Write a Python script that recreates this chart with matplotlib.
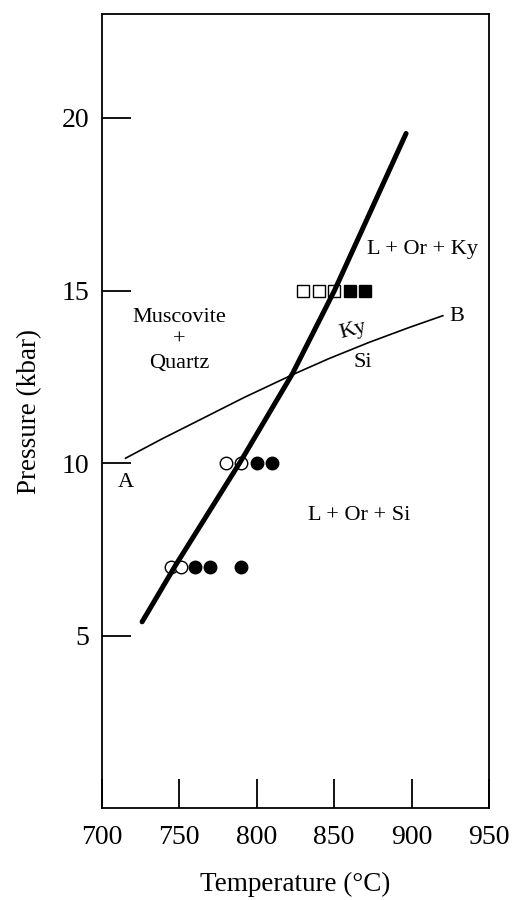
import matplotlib
matplotlib.use("Agg")
import matplotlib.pyplot as plt

plt.rcParams['font.family'] = ['Liberation Serif', 'DejaVu Serif']

# melting curve (thick line)
melt_T = [726.2, 747.8, 789.9, 823.2, 850.2, 896.5]
melt_P = [5.40, 7.04, 10.06, 12.59, 14.99, 19.55]

# Ky / Si boundary (thin line A-B)
kysi_T = [715.5, 739, 762.9, 792, 823.2, 846.9, 872.8, 898.6, 920.2]
kysi_P = [10.14, 10.70, 11.24, 11.90, 12.56, 13.03, 13.50, 13.93, 14.27]

# experiments
sq_open_T = [830, 840, 850]
sq_open_P = [15, 15, 15]
sq_fill_T = [860, 870]
sq_fill_P = [15, 15]
ci_open_T = [780, 790, 745, 751]
ci_open_P = [10, 10, 7, 7]
ci_fill_T = [800, 810, 760, 770, 790]
ci_fill_P = [10, 10, 7, 7, 7]

fig = plt.figure(figsize=(5.13, 9.0), dpi=100)
ax = fig.add_axes([101.5 / 513, 0.102, 387.5 / 513, 0.882])

ax.plot(kysi_T, kysi_P, color="black", lw=1.2, zorder=2)
ax.plot(ci_open_T, ci_open_P, "o", mfc="white", mec="black", ms=9, mew=1.0, zorder=3)
ax.plot(sq_open_T, sq_open_P, "s", mfc="white", mec="black", ms=8.5, mew=1.0, zorder=3)
ax.plot(melt_T, melt_P, color="black", lw=3.6, solid_capstyle="round",
        solid_joinstyle="round", zorder=4)
ax.plot(ci_fill_T, ci_fill_P, "o", color="black", ms=9, zorder=5)
ax.plot(sq_fill_T, sq_fill_P, "s", color="black", ms=8.5, zorder=5)

fs = 16
ax.text(907, 16.2, "L + Or + Ky", fontsize=fs, ha="center", va="center")
ax.text(750, 13.55, "Muscovite\n+\nQuartz", fontsize=fs, ha="center", va="center", linespacing=1.3)
ax.text(929, 14.25, "B", fontsize=fs, ha="center", va="center")
ax.text(716, 9.45, "A", fontsize=fs, ha="center", va="center")
ax.text(862, 13.85, "Ky", fontsize=fs, ha="center", va="center", rotation=15)
ax.text(868.5, 12.9, "Si", fontsize=fs, ha="center", va="center")
ax.text(866, 8.47, "L + Or + Si", fontsize=fs, ha="center", va="center")

ax.set_xlim(700, 950)
ax.set_ylim(0, 23)
ax.set_xticks([700, 750, 800, 850, 900, 950])
ax.set_yticks([5, 10, 15, 20])
ax.tick_params(direction="in", length=21, width=1.3, labelsize=20)
ax.tick_params(axis="x", pad=12)
ax.tick_params(axis="y", pad=9)
ax.tick_params(top=False, right=False)
for s in ax.spines.values():
    s.set_linewidth(1.3)

ax.set_xlabel("Temperature (°C)", fontsize=19.5, labelpad=16)
ax.set_ylabel("Pressure (kbar)", fontsize=19.5, labelpad=14)

fig.savefig("out.png", dpi=100)
